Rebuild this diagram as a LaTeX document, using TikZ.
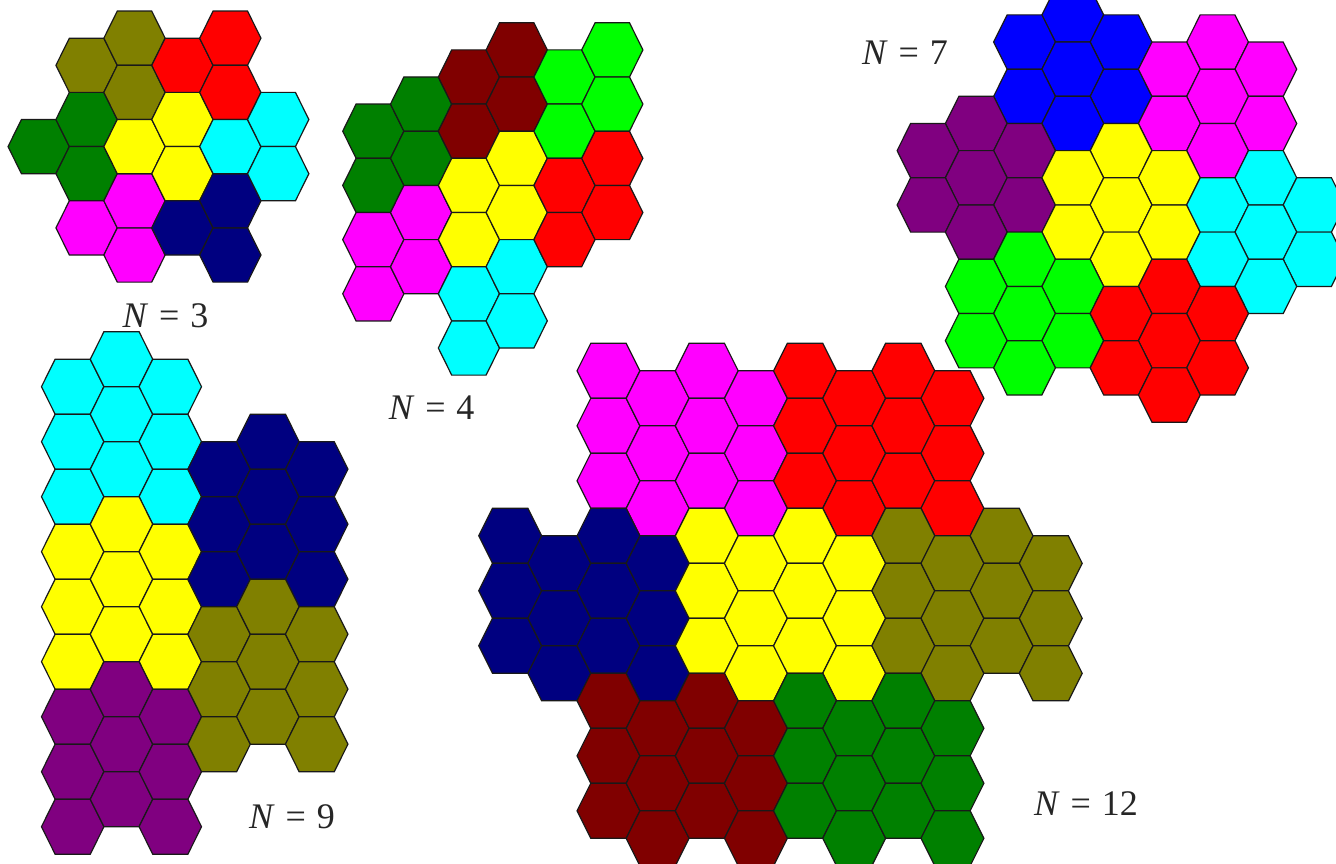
\documentclass[tikz,border=0pt]{standalone}
\usepackage{fontspec}
\setmainfont{Liberation Serif}
\newfontfamily\lblfont{Liberation Serif}
\definecolor{cOlive}{HTML}{808000}
\definecolor{cRed}{HTML}{FF0000}
\definecolor{cGreen}{HTML}{008000}
\definecolor{cYellow}{HTML}{FFFF00}
\definecolor{cCyan}{HTML}{00FFFF}
\definecolor{cMagenta}{HTML}{FF00FF}
\definecolor{cNavy}{HTML}{000080}
\definecolor{cMaroon}{HTML}{800000}
\definecolor{cLime}{HTML}{00FF00}
\definecolor{cBlue}{HTML}{0000FF}
\definecolor{cPurple}{HTML}{800080}
\tikzset{
  hexcell/.style={draw=black!90, line width=1.2pt, line join=miter},
  lbl/.style={font=\lblfont\fontsize{36}{40}\selectfont, inner sep=0pt, text=black!85}
}
% cluster lattice: x of column 0, column spacing, y of half-row 0, half row height
\newcommand\hexset[4]{\def\Xo{#1}\def\DX{#2}\def\Yo{#3}\def\HH{#4}%
  \pgfmathsetmacro\AA{0.64*#2}\pgfmathsetmacro\BB{0.36*#2}}
\newcommand\hexcells[2]{%
  \foreach \c/\k in {#2}{%
    \pgfmathsetmacro\cx{\Xo+\c*\DX}%
    \pgfmathsetmacro\cy{\Yo+\k*\HH}%
    \filldraw[hexcell,fill=#1] (\cx-\AA,\cy) -- (\cx-\BB,\cy-\HH) -- (\cx+\BB,\cy-\HH)
      -- (\cx+\AA,\cy) -- (\cx+\BB,\cy+\HH) -- (\cx-\BB,\cy+\HH) -- cycle;
  }}
\newcommand\lab[1]{\textit{N}\hspace{0.3em}=\hspace{0.3em}#1}
\begin{document}
\begin{tikzpicture}[x=1pt,y=-1pt]
\useasboundingbox (0,0) rectangle (1336,864);
\clip (0,0) rectangle (1336,864);

% ---------- N = 3 ----------
\hexset{38.7}{47.9}{38.2}{27.1}
\hexcells{cGreen}{0/4,1/3,1/5}
\hexcells{cOlive}{1/1,2/0,2/2}
\hexcells{cMagenta}{1/7,2/6,2/8}
\hexcells{cYellow}{2/4,3/3,3/5}
\hexcells{cRed}{3/1,4/0,4/2}
\hexcells{cNavy}{3/7,4/6,4/8}
\hexcells{cCyan}{4/4,5/3,5/5}
\node[lbl] (n3) at (165.5,316) {\lab{3}};

% ---------- N = 4 ----------
\hexset{373.3}{47.8}{49.9}{27.1}
\hexcells{cGreen}{0/3,0/5,1/2,1/4}
\hexcells{cMagenta}{0/7,0/9,1/6,1/8}
\hexcells{cMaroon}{2/1,2/3,3/0,3/2}
\hexcells{cYellow}{2/5,2/7,3/4,3/6}
\hexcells{cCyan}{2/9,2/11,3/8,3/10}
\hexcells{cLime}{4/1,4/3,5/0,5/2}
\hexcells{cRed}{4/5,4/7,5/4,5/6}
\node[lbl] (n4) at (431.7,408) {\lab{4}};

% ---------- N = 7 ----------
\hexset{928}{48.26}{14.9}{27.15}
\hexcells{cBlue}{3/0,2/1,4/1,3/2,2/3,4/3,3/4}
\hexcells{cPurple}{1/4,0/5,2/5,1/6,0/7,2/7,1/8}
\hexcells{cMagenta}{6/1,5/2,7/2,6/3,5/4,7/4,6/5}
\hexcells{cYellow}{4/5,3/6,5/6,4/7,3/8,5/8,4/9}
\hexcells{cCyan}{7/6,6/7,8/7,7/8,6/9,8/9,7/10}
\hexcells{cLime}{2/9,1/10,3/10,2/11,1/12,3/12,2/13}
\hexcells{cRed}{5/10,4/11,6/11,5/12,4/13,6/13,5/14}
\node[lbl] (n7) at (905,53) {\lab{7}};

% ---------- N = 9 ----------
\hexset{72.7}{48.8}{359.2}{27.5}
\hexcells{cCyan}{0/1,0/3,0/5,1/0,1/2,1/4,2/1,2/3,2/5}
\hexcells{cYellow}{0/7,0/9,0/11,1/6,1/8,1/10,2/7,2/9,2/11}
\hexcells{cPurple}{0/13,0/15,0/17,1/12,1/14,1/16,2/13,2/15,2/17}
\hexcells{cNavy}{3/4,3/6,3/8,4/3,4/5,4/7,5/4,5/6,5/8}
\hexcells{cOlive}{3/10,3/12,3/14,4/9,4/11,4/13,5/10,5/12,5/14}
\node[lbl] (n9) at (292,817) {\lab{9}};

% ---------- N = 12 ----------
\hexset{510.2}{49.14}{370.8}{27.5}
\hexcells{cMagenta}{2/0,2/2,2/4,3/1,3/3,3/5,4/0,4/2,4/4,5/1,5/3,5/5}
\hexcells{cRed}{6/0,6/2,6/4,7/1,7/3,7/5,8/0,8/2,8/4,9/1,9/3,9/5}
\hexcells{cNavy}{0/6,0/8,0/10,1/7,1/9,1/11,2/6,2/8,2/10,3/7,3/9,3/11}
\hexcells{cYellow}{4/6,4/8,4/10,5/7,5/9,5/11,6/6,6/8,6/10,7/7,7/9,7/11}
\hexcells{cOlive}{8/6,8/8,8/10,9/7,9/9,9/11,10/6,10/8,10/10,11/7,11/9,11/11}
\hexcells{cMaroon}{2/12,2/14,2/16,3/13,3/15,3/17,4/12,4/14,4/16,5/13,5/15,5/17}
\hexcells{cGreen}{6/12,6/14,6/16,7/13,7/15,7/17,8/12,8/14,8/16,9/13,9/15,9/17}
\node[lbl] (n12) at (1086,804) {\lab{12}};
\end{tikzpicture}
\end{document}
